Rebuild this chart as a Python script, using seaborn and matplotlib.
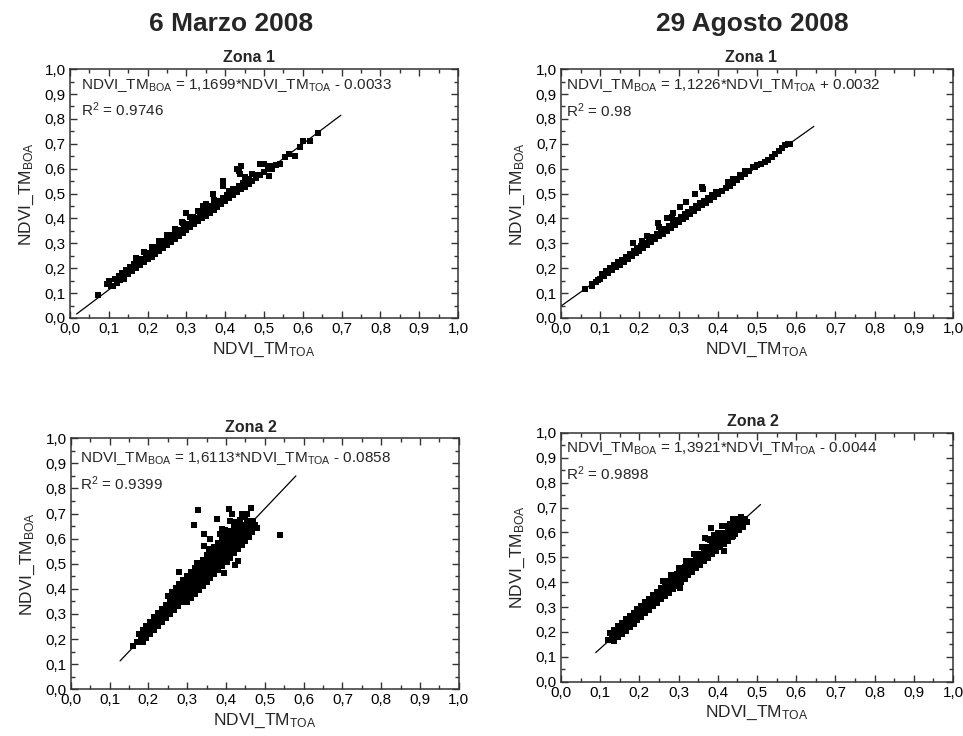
import seaborn as sns
import matplotlib.pyplot as plt
from matplotlib.ticker import MultipleLocator, FuncFormatter
from matplotlib import font_manager

# --- datos ---
titulos = ['6 Marzo 2008', '29 Agosto 2008']
zonas = ['Zona 1', 'Zona 1', 'Zona 2', 'Zona 2']
ecuaciones = ['1,1699*NDVI_TM$_{\\mathrm{TOA}}$ - 0.0033',
              '1,1226*NDVI_TM$_{\\mathrm{TOA}}$ + 0.0032',
              '1,6113*NDVI_TM$_{\\mathrm{TOA}}$ - 0.0858',
              '1,3921*NDVI_TM$_{\\mathrm{TOA}}$ - 0.0044']
r2 = ['0.9746', '0.98', '0.9399', '0.9898']

# rectas de ajuste (extremos leidos)
recta_x = [[0.017, 0.698], [0.0, 0.645], [0.127, 0.58], [0.0885, 0.509]]
recta_y = [[0.016, 0.815], [0.048, 0.77], [0.113, 0.85], [0.117, 0.712]]

# Marzo, zona 1
mz1_x = [0.11, 0.12, 0.13, 0.14, 0.15, 0.16, 0.17, 0.18, 0.19, 0.20, 0.21, 0.22, 0.23, 0.24,
         0.25, 0.26, 0.27, 0.28, 0.29, 0.30, 0.31, 0.32, 0.33, 0.34, 0.35, 0.36, 0.37, 0.38,
         0.39, 0.40, 0.41, 0.42, 0.43, 0.44, 0.45, 0.46, 0.47, 0.48, 0.49, 0.50, 0.51, 0.52,
         0.125, 0.135, 0.145, 0.155, 0.165, 0.175, 0.185, 0.195, 0.205, 0.215, 0.225, 0.235,
         0.245, 0.255, 0.265, 0.275, 0.285, 0.295, 0.305, 0.315, 0.325, 0.335, 0.345, 0.355,
         0.365, 0.375, 0.385, 0.395, 0.405, 0.415, 0.425, 0.435, 0.445, 0.455,
         0.17, 0.19, 0.21, 0.23, 0.25, 0.27, 0.29, 0.31, 0.33, 0.35, 0.37,
         0.073, 0.095, 0.10, 0.105, 0.115, 0.13, 0.14,
         0.43, 0.435, 0.44, 0.438, 0.45, 0.47, 0.49, 0.50, 0.513, 0.513, 0.52, 0.54, 0.554,
         0.58, 0.593, 0.60, 0.618, 0.639, 0.394, 0.394, 0.369, 0.378, 0.343, 0.30, 0.318,
         0.288, 0.249, 0.42, 0.44, 0.48, 0.53, 0.565, 0.46, 0.41, 0.35]
mz1_y = [0.130, 0.142, 0.154, 0.166, 0.177, 0.189, 0.201, 0.212, 0.224, 0.236, 0.247, 0.259,
         0.271, 0.283, 0.294, 0.306, 0.318, 0.329, 0.341, 0.353, 0.364, 0.376, 0.388, 0.400,
         0.411, 0.423, 0.435, 0.446, 0.458, 0.470, 0.481, 0.493, 0.505, 0.517, 0.528, 0.540,
         0.552, 0.563, 0.575, 0.587, 0.598, 0.610,
         0.168, 0.180, 0.192, 0.203, 0.215, 0.227, 0.238, 0.250, 0.262, 0.273, 0.285, 0.297,
         0.309, 0.320, 0.332, 0.344, 0.355, 0.367, 0.379, 0.390, 0.402, 0.414, 0.426, 0.437,
         0.449, 0.461, 0.472, 0.484, 0.496, 0.507, 0.519, 0.531, 0.542, 0.554,
         0.241, 0.264, 0.287, 0.311, 0.334, 0.358, 0.381, 0.404, 0.428, 0.451, 0.475,
         0.092, 0.136, 0.150, 0.130, 0.157, 0.160, 0.158,
         0.600, 0.590, 0.610, 0.580, 0.565, 0.580, 0.620, 0.620, 0.610, 0.570, 0.600, 0.620,
         0.645, 0.652, 0.688, 0.710, 0.712, 0.745, 0.552, 0.530, 0.500, 0.472, 0.452, 0.420,
         0.405, 0.385, 0.330, 0.520, 0.525, 0.575, 0.615, 0.660, 0.560, 0.510, 0.460]

# Agosto, zona 1
az1_x = [0.08, 0.09, 0.10, 0.11, 0.12, 0.13, 0.14, 0.15, 0.16, 0.17, 0.18, 0.19, 0.20, 0.21,
         0.22, 0.23, 0.24, 0.25, 0.26, 0.27, 0.28, 0.29, 0.30, 0.31, 0.32, 0.33, 0.34, 0.35,
         0.36, 0.37, 0.38, 0.39, 0.40, 0.41, 0.42, 0.43, 0.44, 0.45, 0.46, 0.47, 0.48,
         0.105, 0.115, 0.125, 0.135, 0.145, 0.155, 0.165, 0.175, 0.185, 0.195, 0.205, 0.215,
         0.225, 0.235, 0.245, 0.255, 0.265, 0.275, 0.285, 0.295, 0.305, 0.315, 0.325, 0.335,
         0.345, 0.355, 0.365, 0.375, 0.385, 0.395,
         0.061, 0.078, 0.095, 0.49, 0.50, 0.51, 0.52, 0.529, 0.537, 0.546, 0.555, 0.563, 0.571,
         0.58, 0.585, 0.456, 0.448, 0.427, 0.495, 0.47, 0.44,
         0.359, 0.342, 0.363, 0.304, 0.32, 0.282, 0.286, 0.248, 0.25, 0.184, 0.206, 0.22, 0.27]
az1_y = [0.135, 0.146, 0.158, 0.169, 0.180, 0.192, 0.203, 0.214, 0.226, 0.237, 0.248, 0.260,
         0.271, 0.282, 0.294, 0.305, 0.316, 0.328, 0.339, 0.350, 0.362, 0.373, 0.385, 0.396,
         0.407, 0.419, 0.430, 0.441, 0.453, 0.464, 0.475, 0.487, 0.498, 0.509, 0.521, 0.532,
         0.543, 0.555, 0.566, 0.577, 0.589,
         0.178, 0.189, 0.200, 0.212, 0.223, 0.234, 0.246, 0.257, 0.268, 0.280, 0.291, 0.302,
         0.314, 0.325, 0.336, 0.348, 0.359, 0.370, 0.382, 0.393, 0.404, 0.416, 0.427, 0.438,
         0.450, 0.461, 0.472, 0.484, 0.495, 0.506,
         0.118, 0.127, 0.152, 0.607, 0.615, 0.620, 0.626, 0.636, 0.648, 0.660, 0.670, 0.685,
         0.695, 0.700, 0.700, 0.575, 0.560, 0.545, 0.607, 0.590, 0.560,
         0.527, 0.500, 0.520, 0.446, 0.466, 0.406, 0.420, 0.380, 0.366, 0.300, 0.310, 0.330, 0.400]

# Marzo, zona 2
mz2_x = [0.16, 0.17, 0.18, 0.19, 0.20, 0.21, 0.22, 0.23, 0.24, 0.25, 0.26, 0.27, 0.28, 0.29,
         0.30, 0.31, 0.32, 0.33, 0.34, 0.35, 0.36, 0.37, 0.38, 0.39, 0.40, 0.41, 0.42, 0.43,
         0.44, 0.45, 0.46, 0.47,
         0.175, 0.185, 0.195, 0.205, 0.215, 0.225, 0.235, 0.245, 0.255, 0.265, 0.275, 0.285,
         0.295, 0.305, 0.315, 0.325, 0.335, 0.345, 0.355, 0.365, 0.375, 0.385, 0.395, 0.405,
         0.415, 0.425, 0.435, 0.445, 0.455,
         0.185, 0.195, 0.205, 0.215, 0.225, 0.235, 0.245, 0.255, 0.265, 0.275, 0.285, 0.295,
         0.305, 0.315, 0.325, 0.335, 0.345, 0.355, 0.365, 0.375, 0.385, 0.395, 0.405, 0.415,
         0.425, 0.435, 0.445, 0.455, 0.465, 0.475,
         0.25, 0.26, 0.27, 0.28, 0.29, 0.30, 0.31, 0.32, 0.33, 0.34, 0.35, 0.36, 0.37, 0.38,
         0.39, 0.40, 0.41, 0.42, 0.43,
         0.30, 0.31, 0.32, 0.33, 0.34, 0.35, 0.36, 0.37, 0.38, 0.39, 0.40, 0.41, 0.42, 0.43,
         0.44, 0.45, 0.46,
         0.329, 0.407, 0.465, 0.317, 0.378, 0.540, 0.278, 0.343, 0.343, 0.394, 0.424, 0.43,
         0.468, 0.481, 0.442, 0.42, 0.45, 0.476, 0.398, 0.403, 0.325, 0.475, 0.47, 0.36, 0.355,
         0.385, 0.39, 0.41, 0.435, 0.455, 0.44, 0.415, 0.26]
mz2_y = [0.172, 0.188, 0.204, 0.220, 0.237, 0.253, 0.269, 0.285, 0.301, 0.317, 0.333, 0.349,
         0.365, 0.382, 0.398, 0.414, 0.430, 0.446, 0.462, 0.478, 0.494, 0.510, 0.527, 0.543,
         0.559, 0.575, 0.591, 0.607, 0.623, 0.639, 0.655, 0.672,
         0.221, 0.237, 0.253, 0.270, 0.286, 0.302, 0.318, 0.334, 0.350, 0.366, 0.382, 0.398,
         0.415, 0.431, 0.447, 0.463, 0.479, 0.495, 0.511, 0.527, 0.543, 0.560, 0.576, 0.592,
         0.608, 0.624, 0.640, 0.656, 0.672,
         0.187, 0.203, 0.220, 0.236, 0.252, 0.268, 0.284, 0.300, 0.316, 0.332, 0.348, 0.365,
         0.381, 0.397, 0.413, 0.429, 0.445, 0.461, 0.477, 0.493, 0.510, 0.526, 0.542, 0.558,
         0.574, 0.590, 0.606, 0.622, 0.638, 0.654,
         0.372, 0.388, 0.404, 0.420, 0.437, 0.453, 0.469, 0.485, 0.501, 0.517, 0.533, 0.549,
         0.565, 0.582, 0.598, 0.614, 0.630, 0.646, 0.662,
         0.348, 0.364, 0.380, 0.396, 0.412, 0.428, 0.444, 0.460, 0.477, 0.493, 0.509, 0.525,
         0.541, 0.557, 0.573, 0.589, 0.605,
         0.714, 0.718, 0.721, 0.655, 0.680, 0.615, 0.466, 0.617, 0.571, 0.462, 0.495, 0.510,
         0.625, 0.641, 0.650, 0.668, 0.685, 0.641, 0.635, 0.508, 0.502, 0.655, 0.665, 0.600,
         0.560, 0.620, 0.640, 0.670, 0.675, 0.700, 0.700, 0.700, 0.370]

# Agosto, zona 2
az2_x = [0.12, 0.13, 0.14, 0.15, 0.16, 0.17, 0.18, 0.19, 0.20, 0.21, 0.22, 0.23, 0.24, 0.25,
         0.26, 0.27, 0.28, 0.29, 0.30, 0.31, 0.32, 0.33, 0.34, 0.35, 0.36, 0.37, 0.38, 0.39,
         0.40, 0.41, 0.42, 0.43, 0.44, 0.45, 0.46, 0.47,
         0.125, 0.135, 0.145, 0.155, 0.165, 0.175, 0.185, 0.195, 0.205, 0.215, 0.225, 0.235,
         0.245, 0.255, 0.265, 0.275, 0.285, 0.295, 0.305, 0.315, 0.325, 0.335, 0.345, 0.355,
         0.365, 0.375, 0.385, 0.395, 0.405, 0.415, 0.425, 0.435, 0.445, 0.455,
         0.135, 0.145, 0.155, 0.165, 0.175, 0.185, 0.195, 0.205, 0.215, 0.225, 0.235, 0.245,
         0.255, 0.265, 0.275, 0.285, 0.295, 0.305, 0.315, 0.325, 0.335, 0.345, 0.355, 0.365,
         0.375, 0.385, 0.395, 0.405, 0.415, 0.425, 0.435, 0.445, 0.455, 0.465,
         0.26, 0.28, 0.30, 0.32, 0.34, 0.36, 0.38, 0.40, 0.42, 0.44,
         0.383, 0.367, 0.375, 0.417, 0.304, 0.41, 0.431, 0.448, 0.474, 0.44, 0.46, 0.465,
         0.45, 0.39, 0.30, 0.29]
az2_y = [0.168, 0.182, 0.196, 0.209, 0.223, 0.237, 0.251, 0.265, 0.279, 0.293, 0.307, 0.321,
         0.335, 0.349, 0.363, 0.377, 0.390, 0.404, 0.418, 0.432, 0.446, 0.460, 0.474, 0.488,
         0.502, 0.516, 0.530, 0.543, 0.557, 0.571, 0.585, 0.599, 0.613, 0.627, 0.641, 0.655,
         0.195, 0.209, 0.223, 0.236, 0.250, 0.264, 0.278, 0.292, 0.306, 0.320, 0.334, 0.348,
         0.362, 0.376, 0.390, 0.404, 0.417, 0.431, 0.445, 0.459, 0.473, 0.487, 0.501, 0.515,
         0.529, 0.543, 0.557, 0.571, 0.584, 0.598, 0.612, 0.626, 0.640, 0.654,
         0.164, 0.178, 0.191, 0.205, 0.219, 0.233, 0.247, 0.261, 0.275, 0.289, 0.303, 0.317,
         0.331, 0.345, 0.358, 0.372, 0.386, 0.400, 0.414, 0.428, 0.442, 0.456, 0.470, 0.484,
         0.498, 0.512, 0.526, 0.540, 0.553, 0.567, 0.581, 0.595, 0.609, 0.623,
         0.403, 0.430, 0.458, 0.486, 0.514, 0.542, 0.570, 0.597, 0.625, 0.653,
         0.616, 0.578, 0.575, 0.524, 0.377, 0.625, 0.632, 0.640, 0.643, 0.585, 0.660, 0.648,
         0.645, 0.590, 0.450, 0.430]

puntos = [(mz1_x, mz1_y), (az1_x, az1_y), (mz2_x, mz2_y), (az2_x, az2_y)]

# posiciones de los ejes en la figura (left, bottom, width, height)
rects = [[0.0727, 0.568, 0.403, 0.338],
         [0.5826, 0.568, 0.407, 0.338],
         [0.0735, 0.0635, 0.403, 0.341],
         [0.5826, 0.0738, 0.407, 0.338]]
texto_x = [0.028, 0.013, 0.024, 0.013]
texto_y = [0.936, 0.935, 0.921, 0.938]
titulo_x = [0.462, 0.485, 0.465, 0.49]

sns.set_style('ticks')
plt.rcParams['font.family'] = ['Liberation Sans', 'DejaVu Sans']
plt.rcParams['mathtext.fontset'] = 'custom'
plt.rcParams['mathtext.rm'] = 'Liberation Sans'
plt.rcParams['mathtext.it'] = 'Liberation Sans:italic'
plt.rcParams['mathtext.bf'] = 'Liberation Sans:bold'

nombres = {f.name for f in font_manager.fontManager.ttflist}
fuente_titulo = 'Liberation Sans Narrow' if 'Liberation Sans Narrow' in nombres else 'Liberation Sans'

coma = FuncFormatter(lambda v, p: f'{v:.1f}'.replace('.', ','))

fig = plt.figure(figsize=(9.63, 7.36), dpi=100)

for i in range(4):
    ax = fig.add_axes(rects[i])
    px, py = puntos[i]
    sns.scatterplot(x=px, y=py, ax=ax, marker='s', s=17, color='black', linewidth=0)
    sns.lineplot(x=recta_x[i], y=recta_y[i], ax=ax, color='black', linewidth=0.9)

    ax.set_xlim(0, 1)
    ax.set_ylim(0, 1)
    ax.xaxis.set_major_locator(MultipleLocator(0.1))
    ax.yaxis.set_major_locator(MultipleLocator(0.1))
    ax.xaxis.set_minor_locator(MultipleLocator(0.05))
    ax.yaxis.set_minor_locator(MultipleLocator(0.05))
    ax.xaxis.set_major_formatter(coma)
    ax.yaxis.set_major_formatter(coma)
    ax.tick_params(which='both', direction='in', top=True, right=True,
                   colors='#333333', labelcolor='black', labelsize=11, width=1)
    ax.tick_params(which='major', length=5, pad=3)
    ax.tick_params(which='minor', length=3)
    for s in ax.spines.values():
        s.set_color('#333333')
        s.set_linewidth(1.1)

    ax.set_xlabel('NDVI_TM$_{\\mathrm{TOA}}$', fontsize=12.5, labelpad=3)
    ax.set_ylabel('NDVI_TM$_{\\mathrm{BOA}}$', fontsize=12.5, labelpad=6)

    ax.text(titulo_x[i], 1.015, zonas[i], transform=ax.transAxes, ha='center',
            va='bottom', fontsize=11.5, fontweight='bold')
    ax.text(texto_x[i], texto_y[i], 'NDVI_TM$_{\\mathrm{BOA}}$ = ' + ecuaciones[i],
            transform=ax.transAxes, ha='left', va='center', fontsize=11)
    ax.text(texto_x[i], texto_y[i] - 0.1, 'R$^{2}$ = ' + r2[i],
            transform=ax.transAxes, ha='left', va='center', fontsize=11)

fig.text(0.24, 0.968, titulos[0], ha='center', va='center', fontsize=19,
         fontweight='bold', family=fuente_titulo)
fig.text(0.781, 0.968, titulos[1], ha='center', va='center', fontsize=19,
         fontweight='bold', family=fuente_titulo)

fig.savefig('out.png', dpi=100)
